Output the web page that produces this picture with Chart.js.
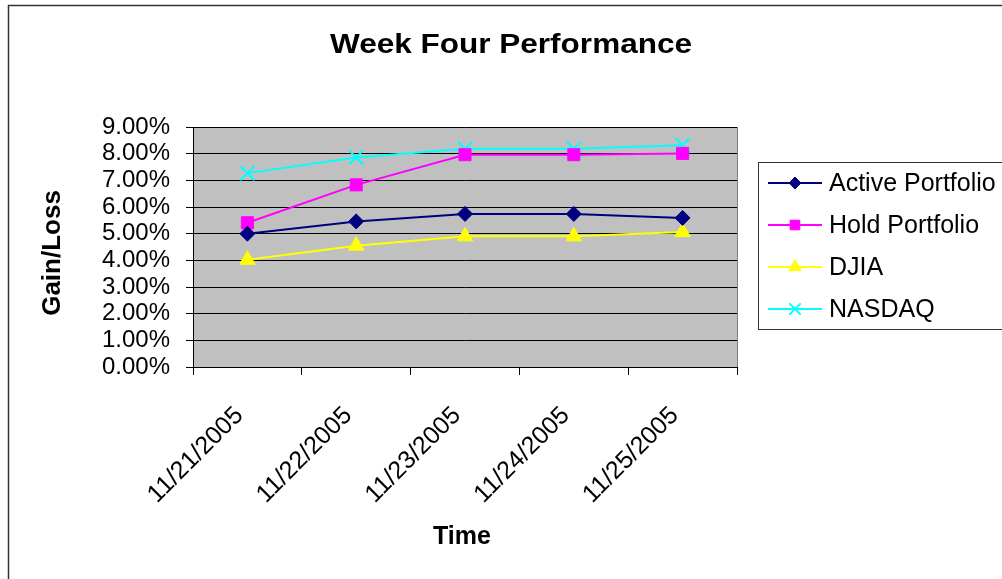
<!DOCTYPE html>
<html lang="en">

<head>
    <meta charset="UTF-8">
    <title>Week Four Performance</title>
    <script src="https://cdn.jsdelivr.net/npm/chart.js"></script>
    <style>
        body { margin: 0; background: #fff; }
    </style>
</head>

<body>
    <canvas id="myChart" width="1002" height="579"></canvas>
    <script>
        // values, in percent
        const dates = ['11/21/2005', '11/22/2005', '11/23/2005', '11/24/2005', '11/25/2005'];
        const activePortfolio = [5.00, 5.46, 5.74, 5.74, 5.59];
        const holdPortfolio = [5.41, 6.83, 7.96, 7.96, 8.01];
        const djia = [4.02, 4.55, 4.90, 4.90, 5.06];
        const nasdaq = [7.27, 7.86, 8.18, 8.18, 8.32];

        const FONT = '"Liberation Sans", Arial, sans-serif';

        // excel style frame, plot background, titles and legend box
        const excelLook = {
            id: 'excelLook',
            beforeDraw(chart) {
                const ctx = chart.ctx;
                const a = chart.chartArea;
                ctx.save();
                ctx.fillStyle = '#ffffff';
                ctx.fillRect(0, 0, chart.width, chart.height);
                ctx.strokeStyle = '#333333';
                ctx.lineWidth = 1.5;
                ctx.strokeRect(8.5, 5.5, chart.width + 10, chart.height + 10);
                ctx.fillStyle = '#c0c0c0';
                ctx.fillRect(a.left, a.top, a.right - a.left, a.bottom - a.top);
                ctx.strokeStyle = '#808080';
                ctx.lineWidth = 1;
                ctx.strokeRect(a.left + 0.5, a.top + 0.5, a.right - a.left, a.bottom - a.top);
                ctx.restore();
            },
            afterDraw(chart) {
                const ctx = chart.ctx;
                ctx.save();
                ctx.fillStyle = '#000';
                ctx.textBaseline = 'middle';
                ctx.textAlign = 'center';

                // title, a bit stretched like the original
                ctx.font = 'bold 27px ' + FONT;
                let title = 'Week Four Performance';
                let sx = 362 / ctx.measureText(title).width;
                ctx.save();
                ctx.translate(511, 46);
                ctx.scale(sx, 1);
                ctx.fillText(title, 0, 0);
                ctx.restore();

                // axis titles
                ctx.font = 'bold 26px ' + FONT;
                ctx.save();
                ctx.translate(53, 253);
                ctx.rotate(-Math.PI / 2);
                ctx.fillText('Gain/Loss', 0, 0);
                ctx.restore();
                ctx.font = 'bold 25px ' + FONT;
                ctx.fillText('Time', 462, 537);

                // legend
                ctx.strokeStyle = '#333333';
                ctx.lineWidth = 1;
                ctx.strokeRect(758.5, 162.5, 260, 167);
                ctx.textAlign = 'left';
                ctx.font = '25px ' + FONT;
                chart.data.datasets.forEach((ds, i) => {
                    let y = 183 + i * 42;
                    ctx.strokeStyle = ds.borderColor;
                    ctx.lineWidth = 2;
                    ctx.beginPath();
                    ctx.moveTo(768, y);
                    ctx.lineTo(822, y);
                    ctx.stroke();
                    ctx.fillStyle = ds.pointBackgroundColor;
                    ctx.strokeStyle = ds.pointBorderColor;
                    ctx.lineWidth = ds.pointBorderWidth;
                    Chart.helpers.drawPoint(ctx, {
                        pointStyle: ds.pointStyle,
                        radius: ds.pointRadius * 0.8,
                        rotation: 0,
                        borderWidth: ds.pointBorderWidth
                    }, 795, y);
                    ctx.fillStyle = '#000';
                    ctx.fillText(ds.label, 829, y + 1);
                });
                ctx.restore();
            }
        };

        function draw_chart() {
            let ctx = document.getElementById('myChart').getContext('2d');
            let myChart = new Chart(ctx, {
                type: 'line',
                data: {
                    labels: dates,
                    datasets: [{
                        label: 'Active Portfolio',
                        data: activePortfolio,
                        borderColor: '#000080',
                        pointBackgroundColor: '#000080',
                        pointBorderColor: '#000080',
                        pointStyle: 'rectRot',
                        pointRadius: 7.5,
                        pointBorderWidth: 1,
                        borderWidth: 2
                    }, {
                        label: 'Hold Portfolio',
                        data: holdPortfolio,
                        borderColor: '#ff00ff',
                        pointBackgroundColor: '#ff00ff',
                        pointBorderColor: '#ff00ff',
                        pointStyle: 'rect',
                        pointRadius: 8.5,
                        pointBorderWidth: 1,
                        borderWidth: 2
                    }, {
                        label: 'DJIA',
                        data: djia,
                        borderColor: '#ffff00',
                        pointBackgroundColor: '#ffff00',
                        pointBorderColor: '#ffff00',
                        pointStyle: 'triangle',
                        pointRadius: 9,
                        pointBorderWidth: 1,
                        borderWidth: 2
                    }, {
                        label: 'NASDAQ',
                        data: nasdaq,
                        borderColor: '#00ffff',
                        pointBackgroundColor: '#00ffff',
                        pointBorderColor: '#00ffff',
                        pointStyle: 'crossRot',
                        pointRadius: 10,
                        pointBorderWidth: 2,
                        borderWidth: 2
                    }]
                },
                options: {
                    responsive: false,
                    animation: false,
                    layout: {
                        padding: { left: 0, top: 127, right: 265, bottom: 0 }
                    },
                    plugins: {
                        legend: { display: false },
                        title: { display: false },
                        tooltip: { enabled: false }
                    },
                    scales: {
                        x: {
                            offset: true,
                            afterFit: (s) => { s.height = 212; },
                            grid: {
                                offset: true,
                                drawOnChartArea: false,
                                drawTicks: true,
                                tickLength: 8,
                                color: '#000'
                            },
                            border: { color: '#000', width: 1 },
                            ticks: {
                                autoSkip: false,
                                minRotation: 45,
                                maxRotation: 45,
                                padding: 26,
                                labelOffset: -8,
                                color: '#000',
                                font: { family: FONT, size: 25 }
                            }
                        },
                        y: {
                            min: 0,
                            max: 9,
                            afterFit: (s) => { s.width = 193; },
                            grid: {
                                color: '#000',
                                tickLength: 7,
                                tickColor: '#000'
                            },
                            border: { color: '#000', width: 1 },
                            ticks: {
                                autoSkip: false,
                                stepSize: 1,
                                padding: 16,
                                color: '#000',
                                font: { family: FONT, size: 24 },
                                callback: (v) => v.toFixed(2) + '%'
                            }
                        }
                    }
                },
                plugins: [excelLook]
            });
        }
        draw_chart();
    </script>
</body>

</html>
